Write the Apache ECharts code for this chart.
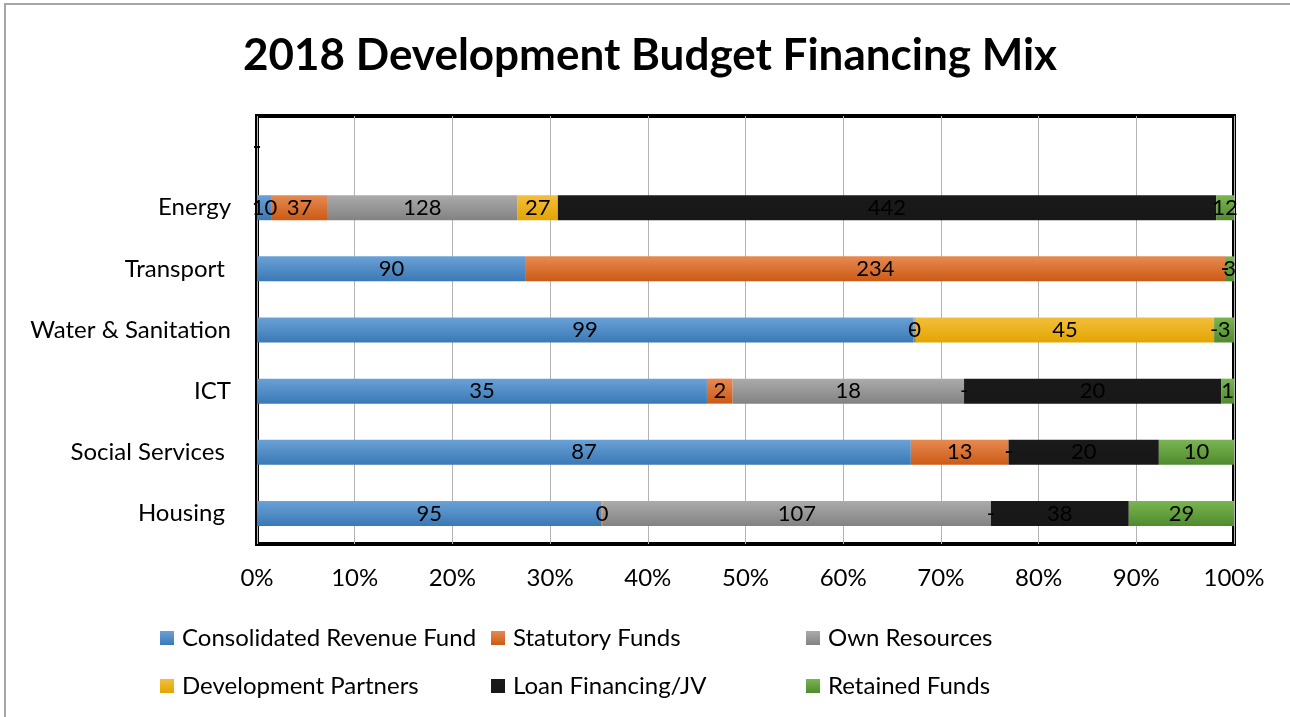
<!DOCTYPE html>
<html>
<head>
<meta charset="utf-8">
<script src="https://cdn.jsdelivr.net/npm/echarts@6/dist/echarts.min.js"></script>
<style>html,body{margin:0;padding:0;background:#fff}#c{width:1290px;height:717px}</style>
</head>
<body>
<div id="c"></div>
<script>
// Categories (bottom to top as drawn on the category axis)
var categories = ['Housing ', 'Social Services ', 'ICT', 'Water & Sanitation', 'Transport ', 'Energy', ''];
var seriesNames = ['Consolidated Revenue Fund', 'Statutory Funds', 'Own Resources', 'Development Partners', 'Loan Financing/JV', 'Retained Funds'];
var consolidatedRevenueFund = [95, 87, 35, 99, 90, 10, 0];
var statutoryFunds          = [0.3, 13, 2, 0, 234, 37, 0];
var ownResources            = [107, 0, 18, 0.4, 0, 128, 0];
var developmentPartners     = [0, 0, 0, 45, 0, 27, 0];
var loanFinancing           = [38, 20, 20, 0, 0, 442, 0];
var retainedFunds           = [29, 10, 1, 3, 3, 12, 0];
var xTickLabels = ['0%','10%','20%','30%','40%','50%','60%','70%','80%','90%','100%'];

var raw = [consolidatedRevenueFund, statutoryFunds, ownResources, developmentPartners, loanFinancing, retainedFunds];
var colors = [
  ['#6aa1d6', '#3a79b6'],
  ['#e68a52', '#cc5a15'],
  ['#ababab', '#828282'],
  ['#f3be3c', '#e2a500'],
  ['#1a1a1a', '#171717'],
  ['#7ab552', '#4f8b2d']
];
var totals = categories.map(function (c, i) {
  var s = 0; raw.forEach(function (arr) { s += arr[i]; }); return s;
});
var FONT = 'Lato';

var series = raw.map(function (arr, k) {
  return {
    name: seriesNames[k],
    type: 'bar',
    stack: 'all',
    barWidth: 25,
    itemStyle: {
      color: new echarts.graphic.LinearGradient(0, 0, 0, 1, [
        { offset: 0, color: colors[k][0] },
        { offset: 1, color: colors[k][1] }
      ])
    },
    label: {
      show: true,
      position: 'inside',
      color: '#000',
      fontFamily: FONT,
      fontSize: 22,
      textBorderWidth: 0,
      formatter: function (p) {
        var v = arr[p.dataIndex];
        return v === 0 ? '-' : String(Math.round(v));
      }
    },
    emphasis: { disabled: true },
    data: arr.map(function (v, i) { return totals[i] ? v / totals[i] * 100 : 0; })
  };
});

var legendPos = [[155, 621], [486, 621], [801, 621], [155, 669], [486, 669], [801, 669]];
var legends = seriesNames.map(function (n, k) {
  return {
    data: [n],
    left: legendPos[k][0],
    top: legendPos[k][1],
    icon: 'rect',
    itemWidth: 14,
    itemHeight: 14,
    selectedMode: false,
    textStyle: { fontFamily: FONT, fontSize: 24, color: '#000', padding: [0, 0, 0, 3] }
  };
});

var chart = echarts.init(document.getElementById('c'), null, { renderer: 'canvas' });
chart.setOption({
  animation: false,
  backgroundColor: '#fff',
  title: {
    text: '2018 Development Budget Financing Mix',
    left: 238,
    top: 29,
    textStyle: { fontFamily: FONT, fontSize: 44, fontWeight: 'bold', color: '#000' }
  },
  graphic: [{
    type: 'polyline',
    shape: { points: [[5, 717], [5, 4], [1290, 4]] },
    style: { stroke: '#a6a6a6', lineWidth: 2, fill: null },
    silent: true
  }],
  legend: legends,
  grid: {
    left: 257, right: 56, top: 116, bottom: 173,
    show: true, borderColor: '#000', borderWidth: 4, backgroundColor: 'transparent',
    containLabel: false
  },
  xAxis: {
    type: 'value',
    min: 0, max: 100, interval: 10,
    axisLine: { show: false },
    axisTick: { show: false },
    splitLine: { show: true, lineStyle: { color: '#b3b3b3', width: 1 } },
    axisLabel: {
      margin: 22,
      fontFamily: FONT, fontSize: 24, color: '#000',
      formatter: function (v) { return xTickLabels[Math.round(v / 10)]; }
    }
  },
  yAxis: {
    type: 'category',
    data: categories,
    axisLine: { show: false },
    axisTick: { show: false },
    axisLabel: { margin: 26, fontFamily: FONT, fontSize: 24, color: '#000' }
  },
  series: series
});
</script>
</body>
</html>
